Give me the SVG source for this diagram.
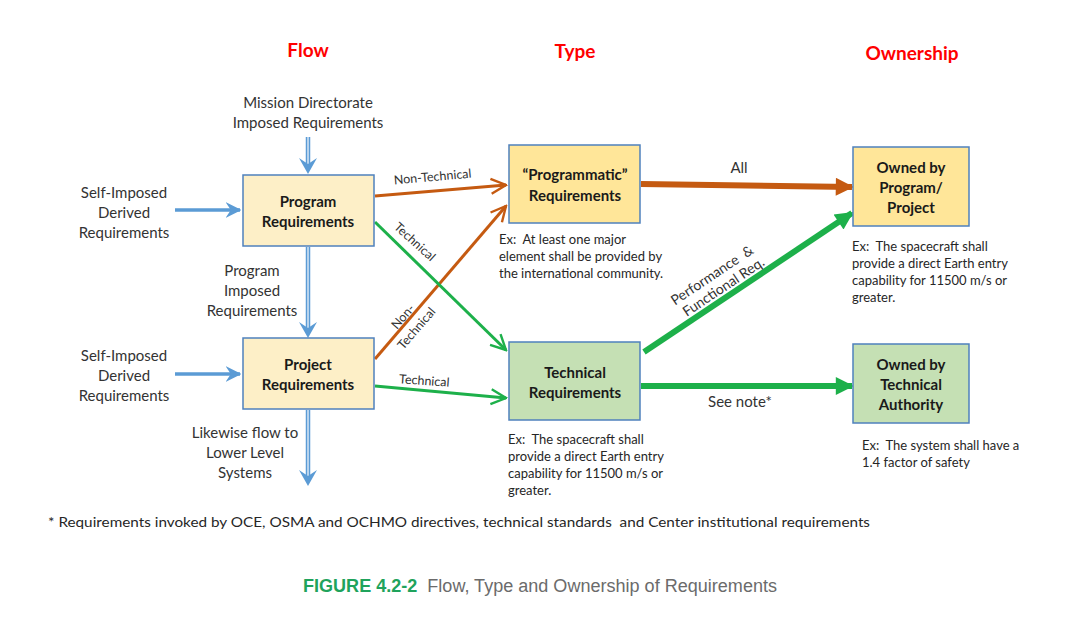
<svg xmlns="http://www.w3.org/2000/svg" width="1080" height="637" viewBox="0 0 1080 637">
<defs>
<style>
text{font-family:Lato,"Open Sans","Liberation Sans",sans-serif;fill:#262626;white-space:pre}
.hdr{font-size:19px;font-weight:bold;fill:#FF0000;text-anchor:middle}
.side{font-size:15px;text-anchor:middle;fill:#333}
.box{font-size:15px;font-weight:bold;text-anchor:middle;fill:#1a1a1a}
.lbl{font-size:12.5px;text-anchor:middle;fill:#333}
.big{font-size:15px;text-anchor:middle;fill:#333}
.ex{font-size:13px;fill:#262626}
.b{stroke:#4F81BD;stroke-width:1.5}
.yel{fill:#FDEFC7}
.gold{fill:#FFE699}
.grn{fill:#C5E0B4}
.bl{stroke:#5B9BD5;stroke-width:3.5;fill:none}
.dbl{stroke:#5B9BD5;stroke-width:4.5;fill:none}
.dbli{stroke:#D6E6F5;stroke-width:1.5;fill:none}
.or{stroke:#C55A11;stroke-width:3;fill:none}
.gr{stroke:#1DB04A;stroke-width:3;fill:none}
.orT{stroke:#C55A11;stroke-width:6;fill:none}
.grT{stroke:#1DB04A;stroke-width:6;fill:none}
</style>
<marker id="openOr" viewBox="0 0 12 12" refX="11" refY="6" markerWidth="6" markerHeight="6" markerUnits="strokeWidth" orient="auto">
<path d="M1,1 L11,6 L1,11" fill="none" stroke="#C55A11" stroke-width="1.6"/>
</marker>
<marker id="openGr" viewBox="0 0 12 12" refX="11" refY="6" markerWidth="6" markerHeight="6" markerUnits="strokeWidth" orient="auto">
<path d="M1,1 L11,6 L1,11" fill="none" stroke="#1DB04A" stroke-width="1.6"/>
</marker>
<marker id="fillOr" viewBox="0 0 10 10" refX="9" refY="5" markerWidth="3.2" markerHeight="3" markerUnits="strokeWidth" orient="auto">
<path d="M0,0 L10,5 L0,10 Z" fill="#C55A11"/>
</marker>
<marker id="fillGr" viewBox="0 0 10 10" refX="9" refY="5" markerWidth="3.2" markerHeight="3" markerUnits="strokeWidth" orient="auto">
<path d="M0,0 L10,5 L0,10 Z" fill="#1DB04A"/>
</marker>
<marker id="blHead" viewBox="0 0 12 12" refX="11" refY="6" markerWidth="4.5" markerHeight="4.5" markerUnits="strokeWidth" orient="auto">
<path d="M0,0 L12,6 L0,12 L4,6 Z" fill="#5B9BD5"/>
</marker>
</defs>
<rect width="1080" height="637" fill="#FFFFFF"/>

<g id="headers">
<text class="hdr" x="308" y="57">Flow</text>
<text class="hdr" x="575" y="58">Type</text>
<text class="hdr" x="912" y="60">Ownership</text>
</g>

<g id="connectors">
<line class="dbl" x1="308" y1="137" x2="308" y2="166"/>
<line class="dbli" x1="308" y1="137" x2="308" y2="164"/>
<path d="M299,158 L308,174 L317,158 L308,164 Z" fill="#5B9BD5"/>
<line class="dbl" x1="308" y1="247" x2="308" y2="330"/>
<line class="dbli" x1="308" y1="247" x2="308" y2="328"/>
<path d="M299,322 L308,338 L317,322 L308,328 Z" fill="#5B9BD5"/>
<line class="dbl" x1="308" y1="410" x2="308" y2="478"/>
<line class="dbli" x1="308" y1="410" x2="308" y2="476"/>
<path d="M299,470 L308,486 L317,470 L308,476 Z" fill="#5B9BD5"/>
<line class="bl" x1="175" y1="210" x2="240" y2="210" marker-end="url(#blHead)"/>
<line class="bl" x1="175" y1="374" x2="240" y2="374" marker-end="url(#blHead)"/>
<line class="or" x1="375" y1="196" x2="506" y2="185" marker-end="url(#openOr)"/>
<line class="or" x1="375" y1="359" x2="506" y2="206" marker-end="url(#openOr)"/>
<line class="gr" x1="375" y1="222" x2="506" y2="350" marker-end="url(#openGr)"/>
<line class="gr" x1="375" y1="386" x2="506" y2="398" marker-end="url(#openGr)"/>
<line class="orT" x1="641" y1="184" x2="852" y2="187" marker-end="url(#fillOr)"/>
<line class="grT" x1="644" y1="352" x2="852" y2="213" marker-end="url(#fillGr)"/>
<line class="grT" x1="641" y1="386" x2="852" y2="386" marker-end="url(#fillGr)"/>
</g>

<g id="connector-labels">
<text class="lbl" transform="translate(433,181) rotate(-5)">Non-Technical</text>
<text class="lbl" transform="translate(412,245) rotate(42)">Technical</text>
<g transform="translate(408,321) rotate(-49)">
<text class="lbl" x="0" y="-2.5">Non-</text>
<text class="lbl" x="0" y="15.5">Technical</text>
</g>
<text class="lbl" transform="translate(424,385) rotate(4)">Technical</text>
<text class="big" x="739" y="173">All</text>
<g transform="translate(728,295.5) rotate(-33.7)">
<text class="lbl" x="-2" y="-21" style="font-size:14px">Performance  &amp;</text>
<text class="lbl" x="1" y="-5" style="font-size:14px">Functional Req.</text>
</g>
<text class="big" x="740" y="407">See note*</text>
</g>

<g id="side-labels">
<text class="side" x="308" y="108">Mission Directorate</text>
<text class="side" x="308" y="128">Imposed Requirements</text>
<text class="side" x="124" y="198">Self-Imposed</text>
<text class="side" x="124" y="218">Derived</text>
<text class="side" x="124" y="238">Requirements</text>
<text class="side" x="252" y="276">Program</text>
<text class="side" x="252" y="296">Imposed</text>
<text class="side" x="252" y="316">Requirements</text>
<text class="side" x="124" y="361">Self-Imposed</text>
<text class="side" x="124" y="381">Derived</text>
<text class="side" x="124" y="401">Requirements</text>
<text class="side" x="245" y="438">Likewise flow to</text>
<text class="side" x="245" y="458">Lower Level</text>
<text class="side" x="245" y="478">Systems</text>
</g>

<g id="program-requirements">
<rect class="b yel" x="243" y="175" width="131" height="71"/>
<text class="box" x="308" y="207">Program</text>
<text class="box" x="308" y="227">Requirements</text>
</g>

<g id="project-requirements">
<rect class="b yel" x="243" y="338" width="131" height="71"/>
<text class="box" x="308" y="370">Project</text>
<text class="box" x="308" y="390">Requirements</text>
</g>

<g id="programmatic-requirements">
<rect class="b gold" x="509" y="145" width="131" height="78"/>
<text class="box" x="575" y="180">“Programmatic”</text>
<text class="box" x="575" y="201">Requirements</text>
</g>

<g id="technical-requirements">
<rect class="b grn" x="509" y="342" width="131" height="78"/>
<text class="box" x="575" y="378">Technical</text>
<text class="box" x="575" y="398">Requirements</text>
</g>

<g id="owned-program-project">
<rect class="b gold" x="853" y="147" width="116" height="79"/>
<text class="box" x="911" y="173">Owned by</text>
<text class="box" x="911" y="193">Program/</text>
<text class="box" x="911" y="213">Project</text>
</g>

<g id="owned-technical-authority">
<rect class="b grn" x="853" y="344" width="116" height="79"/>
<text class="box" x="911" y="370">Owned by</text>
<text class="box" x="911" y="390">Technical</text>
<text class="box" x="911" y="410">Authority</text>
</g>

<g id="examples">
<text class="ex" x="499" y="244">Ex:  At least one major</text>
<text class="ex" x="499" y="261">element shall be provided by</text>
<text class="ex" x="499" y="278">the international community.</text>
<text class="ex" x="852" y="251">Ex:  The spacecraft shall</text>
<text class="ex" x="852" y="268">provide a direct Earth entry</text>
<text class="ex" x="852" y="285">capability for 11500 m/s or</text>
<text class="ex" x="852" y="302">greater.</text>
<text class="ex" x="508" y="444">Ex:  The spacecraft shall</text>
<text class="ex" x="508" y="461">provide a direct Earth entry</text>
<text class="ex" x="508" y="478">capability for 11500 m/s or</text>
<text class="ex" x="508" y="495">greater.</text>
<text class="ex" x="862" y="450">Ex:  The system shall have a</text>
<text class="ex" x="862" y="467">1.4 factor of safety</text>
</g>

<g id="footnote">
<text x="48" y="527" style="font-size:14px" textLength="822" lengthAdjust="spacingAndGlyphs">* Requirements invoked by OCE, OSMA and OCHMO directives, technical standards  and Center institutional requirements</text>
</g>

<g id="caption">
<text x="303" y="592" style="font-size:18px;font-family:'Liberation Sans',Arial,sans-serif" textLength="474" lengthAdjust="spacingAndGlyphs"><tspan style="fill:#1FA35C;font-weight:bold">FIGURE 4.2-2</tspan><tspan style="fill:#6b6b6b">  Flow, Type and Ownership of Requirements</tspan></text>
</g>
</svg>
